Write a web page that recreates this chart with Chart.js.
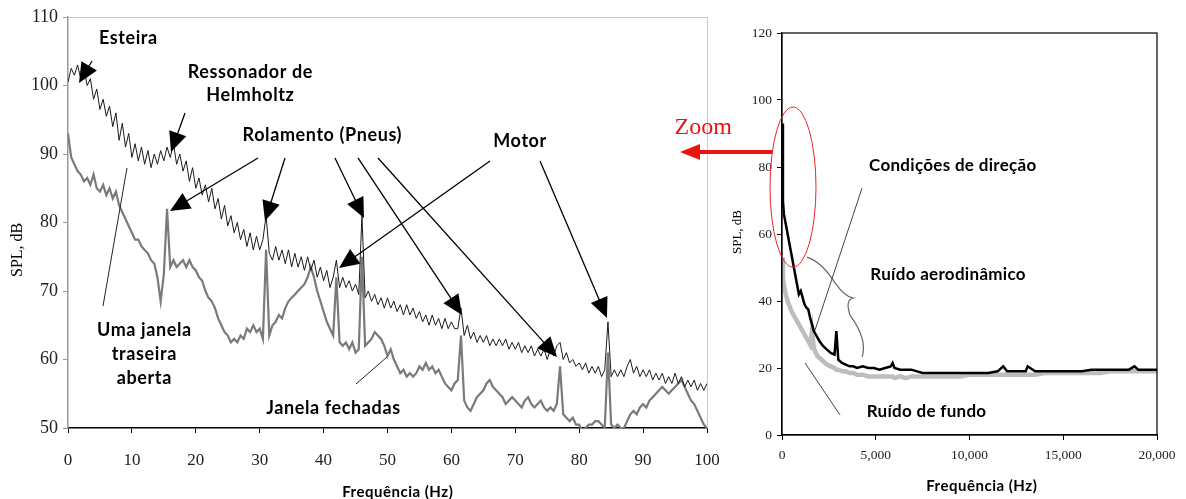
<!DOCTYPE html>
<html>
<head>
<meta charset="utf-8">
<script src="https://cdn.jsdelivr.net/npm/chart.js@4.4.0/dist/chart.umd.min.js"></script>
<style>
  html, body { margin: 0; padding: 0; background: #fff; }
  #wrap { position: relative; width: 1186px; height: 499px; overflow: hidden; }
  #zoomChart { position: absolute; left: 0; top: 0; }
  #fullChart { position: absolute; left: 660px; top: 0; }
</style>
</head>
<body>
<div id="wrap">
  <canvas id="zoomChart" width="720" height="499"></canvas>
  <canvas id="fullChart" width="526" height="499"></canvas>
</div>
<script>
// ===== DADOS: espectro 0-100 Hz (zoom) =====
const freqZoom = [
  0,0.5,1,1.5,2,2.5,3,3.5,4,4.5,5,5.5,6,6.5,7,7.5,8,8.5,9,9.5,
  10,10.5,11,11.5,12,12.5,13,13.5,14,14.5,15,15.5,16,16.5,17,17.5,18,18.5,19,19.5,
  20,20.5,21,21.5,22,22.5,23,23.5,24,24.5,25,25.5,26,26.5,27,27.5,28,28.5,29,29.5,
  30,30.5,31,31.5,32,32.5,33,33.5,34,34.5,35,35.5,36,36.5,37,37.5,38,38.5,39,39.5,
  40,40.5,41,41.5,42,42.5,43,43.5,44,44.5,45,45.5,46,46.5,47,47.5,48,48.5,49,49.5,
  50,50.5,51,51.5,52,52.5,53,53.5,54,54.5,55,55.5,56,56.5,57,57.5,58,58.5,59,59.5,
  60,60.5,61,61.5,62,62.5,63,63.5,64,64.5,65,65.5,66,66.5,67,67.5,68,68.5,69,69.5,
  70,70.5,71,71.5,72,72.5,73,73.5,74,74.5,75,75.5,76,76.5,77,77.5,78,78.5,79,79.5,
  80,80.5,81,81.5,82,82.5,83,83.5,84,84.5,85,85.5,86,86.5,87,87.5,88,88.5,89,89.5,
  90,90.5,91,91.5,92,92.5,93,93.5,94,94.5,95,95.5,96,96.5,97,97.5,98,98.5,99,99.5,
  100
];
// Uma janela traseira aberta (preto)
const splOpen = [
  100.5,102.5,101.5,103,101,102.5,100,101,98,99.5,96.5,98,95.5,97,94,96,92,94.5,91,93,
  89.5,91.5,89,91,88.5,90.5,88,90,88.5,90.5,89,91,89.5,91.5,88.5,90,87.5,89,86,88,
  85,86.5,84,85.5,83,85,82,83.5,80.5,82.5,79.5,81,78.5,80,77.5,79,76.5,78.5,76,78,
  76,77.5,81,75.5,74.5,76.5,74.5,76,74,76,73.5,75.5,73.5,75,73,75,73,74.5,72,73.5,
  71.5,73,70.5,72,74.5,70.5,72,70.5,71.5,70,71,69.5,81,69,70,68.5,69.5,68,69,67.5,
  69,67.5,68.5,67,68,66.5,68,66.5,67.5,66,67,65.5,66.5,65,66.5,65,66,64.5,66,64.5,
  65.5,64.5,64.5,67.5,63.5,65,63,64,62.5,63.5,62.5,63.5,62,63,62,63,62,63,61.5,62.5,
  61.5,62.5,61,62,61,62,60.5,61.5,60.5,61.5,60,61.5,60.5,62,62.5,60,61,59.5,60,59,
  59.5,58.5,59.5,58,59,58,59,57.5,58.5,65.5,57.5,58.5,57.5,58.5,57.5,59,60,58,59,57.5,
  58.5,57.5,58.5,57,58,57,58,56.5,57.5,56.5,58,56.5,57.5,56,57,56,57,55.5,56.5,55.5,
  56.5
];
// Janela fechadas (cinza)
const splClosed = [
  93,89.5,88.5,87.5,87,86,86.5,85.5,87,85,84.5,85.5,84,85,83.5,84.5,82.5,81.5,80.5,79.5,
  78.5,77.5,77.5,76.5,76,75.5,74.5,74,72,68.5,72.5,82,73.5,74.5,73.5,74,74.5,73.5,74.5,73.5,
  73,72,71.5,70,69,68.5,67.5,66,65,64,63.5,62.5,63,62.5,63.5,63,64.5,64,65,64,
  64.5,63,76,63.5,65,65.5,66.5,66,67.5,68.5,69,69.5,70,70.5,71,72,73.5,72,70,68.5,
  67,65.5,64.5,63.5,72,62.5,62,62.5,61.5,62.5,61,61.5,75,62,62.5,63,64,63.5,63,62,
  60.5,61.5,60,59,58,58.5,57.5,58,57.5,58,59,58.5,59.5,58.5,59,58,58.5,57.5,56.5,56,
  55.5,56.5,57,63.5,54,53,52.5,53.5,54.5,55,55.5,56.5,57,56,55.5,55,54.5,53.5,54,54.5,
  54,53.5,53,54,54.5,53.5,53,53.5,54,53,52.5,53,52.5,53.5,59,52,51.5,51,51.5,50.5,
  50.5,49.5,50,50.5,50.5,51,51,50.5,50,61,50.5,50,50.5,50,50,51,52,52.5,52,53,
  53.5,53,54,54.5,55,55.5,56,55.5,55,55.5,56,56.5,57,56,55,54,53.5,52.5,51.5,50.5,
  50
];

// ===== DADOS: espectro 0-20000 Hz =====
const freqFull = [
  0,50,100,200,300,400,500,600,700,800,900,1000,1100,1200,1300,1400,1500,1600,1700,1800,1900,2000,
  2200,2400,2600,2800,2900,3000,3200,3400,3600,3800,4000,
  4300,4600,4900,5200,5500,5800,5900,6000,
  6300,6600,6900,7200,7500,7800,8100,8400,8700,9000,
  9500,10000,10500,11000,11500,11800,12000,
  12500,13000,13100,13500,14000,14500,15000,
  15500,16000,16500,17000,17500,18000,18500,18800,19000,19500,20000
];
// Condições de direção (preto)
const splDriving = [
  93,70,66,63,60,57,54,51,48,45,42,43,41,39,38,37.5,35,33,31,30,29,28,
  26.5,25.5,24.5,24,31,22.5,21.5,21,20.5,20.5,20,
  20.5,20,20,19.5,20,20.5,21.5,20,
  19.5,19.5,19.5,19,18.5,18.5,18.5,18.5,18.5,18.5,
  18.5,18.5,18.5,18.5,19,20.5,19,
  19,19,20.5,19,19,19,19,
  19,19,19.5,19.5,19.5,19.5,19.5,20.5,19.5,19.5,19.5
];
// Ruído de fundo (cinza claro)
const splBackground = [
  53,47,45,42,40,38.5,37,36,35,34,33,32,31,30,29,28,27,31,26,24.5,23.5,23,
  22,21,20.5,20,19.5,19.5,19,19,18.5,18.5,18,
  18,17.5,17.5,17.5,17.5,17.5,17.5,17,
  17.5,17,17.5,17.5,17.5,17.5,17.5,17.5,17.5,17.5,
  17.5,18,18,18,18,18,18,
  18,18,18,18,18.5,18.5,18.5,
  18.5,18.5,18.5,18.5,19,19,19,19,19,19,19
];

// ===== EIXOS =====
const zoomXTicks = { min: 0, max: 100, step: 10 };
const zoomYTicks = { min: 50, max: 110, step: 10 };
const fullXTicks = { min: 0, max: 20000, step: 5000 };
const fullYTicks = { min: 0, max: 120, step: 20 };

// ===== ANOTAÇÕES (coordenadas de dados) =====
const zoomLabels = [
  ['Esteira', 9.4, 106.9],
  ['Ressonador de', 28.5, 102.0],
  ['Helmholtz', 28.5, 98.6],
  ['Rolamento (Pneus)', 39.75, 92.8],
  ['Motor', 70.7, 91.9],
  ['Uma janela', 11.9, 64.3],
  ['traseira', 11.9, 60.8],
  ['aberta', 11.9, 57.3],
  ['Janela fechadas', 41.5, 52.9]
];
const zoomArrows = [
  [3.76, 103.58, 1.72, 100.36],
  [18.31, 95.99, 16.12, 90.29],
  [29.73, 89.42, 15.96, 81.68],
  [33.96, 89.42, 30.83, 80.22],
  [41.78, 89.42, 46.32, 80.66],
  [45.38, 89.42, 61.66, 66.5],
  [48.51, 89.42, 76.53, 60.36],
  [66.04, 88.98, 42.41, 73.36],
  [73.87, 88.98, 84.35, 66.06]
];
const zoomLines = [
  [5.48, 67.81, 9.23, 87.96],
  [45.07, 56.42, 49.92, 60.36]
];

const fullLabels = [
  ['Condições de direção', 9100, 80.3],
  ['Ruído aerodinâmico', 8850, 47.8],
  ['Ruído de fundo', 7700, 6.9]
];
const fullLines = [
  [4267, 73.7, 1760, 31.3],
  [3093, 6.0, 1227, 21.5]
];
const braceCurve = [[1333, 53.1], [2133, 51.6], [2827, 45.4], [3360, 41.2], [3787, 40.9], [3360, 40.3], [3627, 35.8], [4587, 28.4], [4267, 23.3]];

const SANS = '"Lato", "Open Sans", sans-serif';
const SERIF = '"Liberation Serif", "Times New Roman", serif';

// HELPERS
function toPx(chart, x, y) {
  return [chart.scales.x.getPixelForValue(x), chart.scales.y.getPixelForValue(y)];
}

function drawArrow(ctx, from, to, head, half) {
  const ang = Math.atan2(to[1] - from[1], to[0] - from[0]);
  const c = Math.cos(ang), s = Math.sin(ang);
  const end = head ? [to[0] - c * head * 0.8, to[1] - s * head * 0.8] : to;
  ctx.beginPath();
  ctx.moveTo(from[0], from[1]);
  ctx.lineTo(end[0], end[1]);
  ctx.stroke();
  if (head) {
    const bx = to[0] - c * head, by = to[1] - s * head;
    ctx.beginPath();
    ctx.moveTo(to[0], to[1]);
    ctx.lineTo(bx - s * half, by + c * half);
    ctx.lineTo(bx + s * half, by - c * half);
    ctx.closePath();
    ctx.fill();
  }
}

function points(xs, ys) {
  return xs.map((x, i) => ({ x: x, y: ys[i] }));
}

function fixedAxis(size, horizontal) {
  return function (s) {
    if (horizontal) s.height = size; else s.width = size;
    s.paddingLeft = 0; s.paddingRight = 0; s.paddingTop = 0; s.paddingBottom = 0;
  };
}

// texto com espaçamento entre letras (Calibri é mais largo que Lato)
function spacedText(ctx, text, x, y, spacing) {
  ctx.letterSpacing = spacing + 'px';
  ctx.fillText(text, x + spacing / 2, y);
  ctx.letterSpacing = '0px';
}

// PLUGIN: anotações do gráfico de zoom
const zoomNotes = {
  id: 'zoomNotes',
  beforeDatasetsDraw(chart) {
    const { ctx, chartArea: a } = chart;
    ctx.save();
    ctx.strokeStyle = '#c8c8c8';
    ctx.lineWidth = 1;
    ctx.beginPath();
    ctx.moveTo(a.left, a.top + 0.5);
    ctx.lineTo(a.right + 0.5, a.top + 0.5);
    ctx.lineTo(a.right + 0.5, a.bottom);
    ctx.stroke();
    ctx.restore();
  },
  afterDraw(chart) {
    const { ctx, chartArea: a } = chart;
    ctx.save();
    ctx.fillStyle = '#000';
    ctx.strokeStyle = '#000';
    ctx.lineWidth = 1.3;
    zoomArrows.forEach(r => drawArrow(ctx, toPx(chart, r[0], r[1]), toPx(chart, r[2], r[3]), 20, 9));
    ctx.strokeStyle = '#222';
    ctx.lineWidth = 1;
    zoomLines.forEach(r => drawArrow(ctx, toPx(chart, r[0], r[1]), toPx(chart, r[2], r[3]), 0, 0));

    ctx.textAlign = 'center';
    ctx.textBaseline = 'middle';
    ctx.font = 'bold 18px ' + SANS;
    zoomLabels.forEach(l => {
      const p = toPx(chart, l[1], l[2]);
      spacedText(ctx, l[0], p[0], p[1], 0.6);
    });

    // títulos dos eixos
    ctx.font = 'bold 15px ' + SANS;
    spacedText(ctx, 'Frequência (Hz)', (a.left + a.right) / 2 + 10, a.bottom + 64, 0.5);
    ctx.font = '16px ' + SERIF;
    ctx.translate(a.left - 50, chart.scales.y.getPixelForValue(76));
    ctx.rotate(-Math.PI / 2);
    ctx.fillText('SPL, dB', 0, 0);
    ctx.restore();
  }
};

// PLUGIN: anotações do gráfico completo
const fullNotes = {
  id: 'fullNotes',
  afterDraw(chart) {
    const { ctx, chartArea: a } = chart;
    ctx.save();
    ctx.strokeStyle = '#000';
    ctx.lineWidth = 1.2;
    ctx.strokeRect(a.left, a.top, a.right - a.left, a.bottom - a.top);

    ctx.strokeStyle = '#444';
    ctx.lineWidth = 1;
    fullLines.forEach(r => drawArrow(ctx, toPx(chart, r[0], r[1]), toPx(chart, r[2], r[3]), 0, 0));

    // chave do ruído aerodinâmico
    const b = braceCurve.map(p => toPx(chart, p[0], p[1]));
    ctx.strokeStyle = '#666';
    ctx.lineWidth = 1.2;
    ctx.beginPath();
    ctx.moveTo(b[0][0], b[0][1]);
    for (let i = 1; i < b.length; i += 2) ctx.quadraticCurveTo(b[i][0], b[i][1], b[i + 1][0], b[i + 1][1]);
    ctx.stroke();

    // elipse vermelha
    const e1 = toPx(chart, -640, 97.9), e2 = toPx(chart, 1813, 50.1);
    ctx.strokeStyle = '#e8262a';
    ctx.lineWidth = 1;
    ctx.beginPath();
    ctx.ellipse((e1[0] + e2[0]) / 2, (e1[1] + e2[1]) / 2, (e2[0] - e1[0]) / 2, (e2[1] - e1[1]) / 2, 0, 0, Math.PI * 2);
    ctx.stroke();

    // seta "Zoom"
    ctx.strokeStyle = '#ee1111';
    ctx.fillStyle = '#ee1111';
    ctx.lineWidth = 4;
    drawArrow(ctx, toPx(chart, -533, 84.5), toPx(chart, -5440, 84.5), 20, 8);
    ctx.textAlign = 'center';
    ctx.textBaseline = 'middle';
    ctx.font = '24px ' + SERIF;
    const z = toPx(chart, -4200, 91.6);
    ctx.fillText('Zoom', z[0], z[1]);

    ctx.fillStyle = '#000';
    ctx.font = 'bold 17px ' + SANS;
    fullLabels.forEach(l => {
      const p = toPx(chart, l[1], l[2]);
      spacedText(ctx, l[0], p[0], p[1], 0.3);
    });

    ctx.font = 'bold 15px ' + SANS;
    spacedText(ctx, 'Frequência (Hz)', (a.left + a.right) / 2 + 12, a.bottom + 51, 0.5);
    ctx.font = '13px ' + SERIF;
    ctx.translate(a.left - 44, chart.scales.y.getPixelForValue(60.6));
    ctx.rotate(-Math.PI / 2);
    ctx.fillText('SPL, dB', 0, 0);
    ctx.restore();
  }
};

// GRÁFICO 1: zoom 0-100 Hz
new Chart(document.getElementById('zoomChart'), {
  type: 'line',
  data: {
    datasets: [
      { data: points(freqZoom, splOpen), borderColor: '#1a1a1a', borderWidth: 1 },
      { data: points(freqZoom, splClosed), borderColor: '#7a7a7a', borderWidth: 2.2 }
    ]
  },
  options: {
    responsive: false,
    animation: false,
    layout: { padding: { left: 0, top: 17, right: 13, bottom: 0 } },
    plugins: { legend: { display: false }, tooltip: { enabled: false } },
    elements: { point: { radius: 0 }, line: { tension: 0 } },
    scales: {
      x: {
        type: 'linear', min: zoomXTicks.min, max: zoomXTicks.max,
        ticks: { stepSize: zoomXTicks.step, padding: 17, color: '#222', maxRotation: 0, font: { family: SERIF, size: 17 } },
        grid: { drawOnChartArea: false, tickLength: 5, color: '#000' },
        border: { color: '#000', width: 1.5 },
        afterFit: fixedAxis(71, true)
      },
      y: {
        type: 'linear', min: zoomYTicks.min, max: zoomYTicks.max,
        ticks: { stepSize: zoomYTicks.step, padding: 5, color: '#222', font: { family: SERIF, size: 18 } },
        grid: { drawOnChartArea: false, tickLength: 5, color: '#999' },
        border: { color: '#999', width: 1.5 },
        afterFit: fixedAxis(68, false)
      }
    }
  },
  plugins: [zoomNotes]
});

// GRÁFICO 2: 0-20000 Hz
new Chart(document.getElementById('fullChart'), {
  type: 'line',
  data: {
    datasets: [
      { data: points(freqFull, splDriving), borderColor: '#000', borderWidth: 2.5 },
      { data: points(freqFull, splBackground), borderColor: '#bdbdbd', borderWidth: 4.5 }
    ]
  },
  options: {
    responsive: false,
    animation: false,
    layout: { padding: { left: 0, top: 33, right: 29, bottom: 0 } },
    plugins: { legend: { display: false }, tooltip: { enabled: false } },
    elements: { point: { radius: 0 }, line: { tension: 0 } },
    scales: {
      x: {
        type: 'linear', min: fullXTicks.min, max: fullXTicks.max,
        ticks: {
          stepSize: fullXTicks.step, padding: 7, color: '#222', maxRotation: 0,
          font: { family: SERIF, size: 13.5 },
          callback: v => v.toLocaleString('en-US')
        },
        grid: { drawOnChartArea: false, tickLength: 5, color: '#000' },
        border: { color: '#000', width: 1.2 },
        afterFit: fixedAxis(64, true)
      },
      y: {
        type: 'linear', min: fullYTicks.min, max: fullYTicks.max,
        ticks: { stepSize: fullYTicks.step, padding: 5, color: '#222', font: { family: SERIF, size: 13.5 } },
        grid: { drawOnChartArea: false, tickLength: 5, color: '#000' },
        border: { color: '#000', width: 1.2 },
        afterFit: fixedAxis(122, false)
      }
    }
  },
  plugins: [fullNotes]
});
</script>
</body>
</html>
